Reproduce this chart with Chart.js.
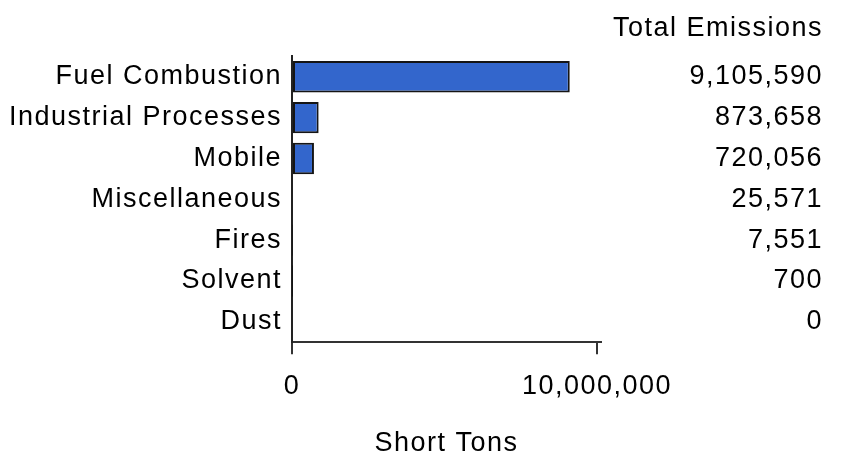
<!DOCTYPE html>
<html>
<head>
<meta charset="utf-8">
<script src="https://cdn.jsdelivr.net/npm/chart.js@4"></script>
<style>
  html, body { margin: 0; padding: 0; background: #fff; }
  #wrap { width: 860px; height: 460px; }
</style>
</head>
<body>
<div id="wrap"><canvas id="myChart"></canvas></div>
<script>
const sources = ['Fuel Combustion', 'Industrial Processes', 'Mobile', 'Miscellaneous', 'Fires', 'Solvent', 'Dust'];
const totals = [9105590, 873658, 720056, 25571, 7551, 700, 0];
const xTicks = [0, 10000000];
const xMax = 10130000;

const fontFamily = '"Liberation Sans", Arial, Helvetica, sans-serif';
const font = { family: fontFamily, size: 27, weight: 'normal' };

// wider letter spacing, like the original bitmap font
const spacing = {
  id: 'spacing',
  beforeLayout(chart) { chart.ctx.letterSpacing = '1.5px'; },
  beforeDraw(chart) { chart.ctx.letterSpacing = '1.5px'; },
};

const config = {
  type: 'bar',
  data: {
    labels: sources,
    datasets: [
      {
        data: totals,
        backgroundColor: '#3366cc',
        borderColor: '#151515',
        borderWidth: 2,
        borderSkipped: false,
        barPercentage: 0.77,
        categoryPercentage: 1,
      },
    ],
  },
  options: {
    indexAxis: 'y',
    responsive: true,
    maintainAspectRatio: false,
    animation: false,
    layout: { padding: { left: 0, right: 37, top: 0, bottom: 0 } },
    plugins: {
      legend: { display: false },
      tooltip: { enabled: false },
      title: {
        display: true,
        text: 'Total Emissions',
        align: 'end',
        color: '#000',
        font: font,
        padding: { top: 12, bottom: 12 },
      },
    },
    scales: {
      x: {
        type: 'linear',
        min: 0,
        max: xMax,
        afterBuildTicks: (axis) => {
          axis.ticks = xTicks.map((v) => ({ value: v }));
        },
        grid: {
          drawOnChartArea: false,
          drawTicks: true,
          tickLength: 12,
          color: '#333',
          lineWidth: 2,
        },
        border: { color: '#333', width: 2 },
        ticks: {
          color: '#000',
          font: font,
          padding: 16,
          maxRotation: 0,
          callback: (v) => v.toLocaleString('en-US'),
        },
        title: {
          display: true,
          text: 'Short Tons',
          color: '#000',
          font: font,
          padding: { top: 9, bottom: 0 },
        },
      },
      y: {
        position: 'left',
        grid: { display: false, drawTicks: false },
        border: { color: '#222', width: 2 },
        ticks: { color: '#000', font: font, padding: 10 },
        afterFit: (axis) => { axis.width = 292; },
      },
      totals: {
        type: 'category',
        axis: 'y',
        position: 'right',
        offset: true,
        labels: totals.map((v) => v.toLocaleString('en-US')),
        grid: { display: false, drawTicks: false },
        border: { display: false },
        ticks: { color: '#000', font: font, padding: 0, crossAlign: 'far' },
        afterFit: (axis) => { axis.width = 222; },
      },
    },
  },
  plugins: [spacing],
};

const ctx = document.getElementById('myChart').getContext('2d');
const myChart = new Chart(ctx, config);
</script>
</body>
</html>
